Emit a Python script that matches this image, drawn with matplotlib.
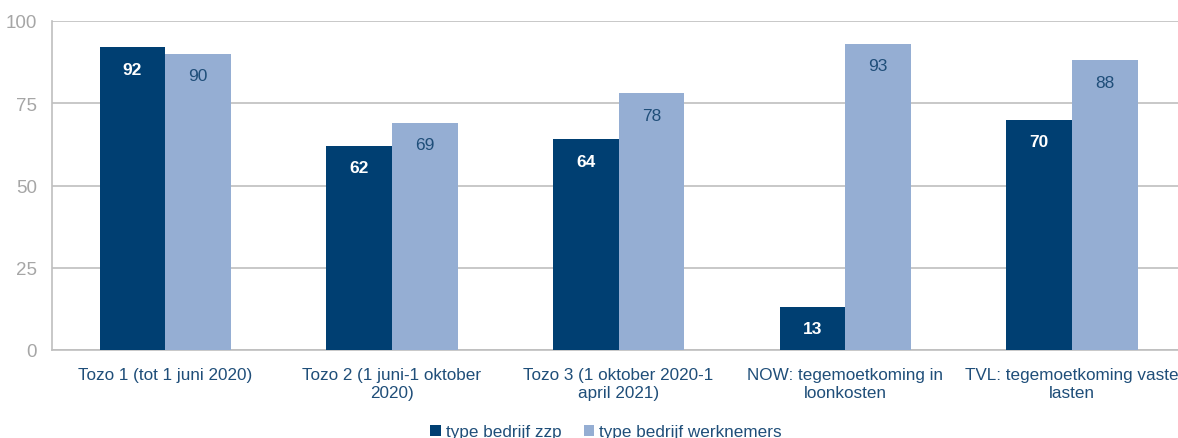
import numpy as np
import matplotlib.pyplot as plt

plt.rcParams['font.family'] = ['Liberation Sans', 'DejaVu Sans']

categories = ['Tozo 1 (tot 1 juni 2020)', 'Tozo 2 (1 juni-1 oktober\n2020)',
              'Tozo 3 (1 oktober 2020-1\napril 2021)', 'NOW: tegemoetkoming in\nloonkosten',
              'TVL: tegemoetkoming vaste\nlasten']
zzp = [92, 62, 64, 13, 70]
werknemers = [90, 69, 78, 93, 88]
series_names = ['type bedrijf zzp', 'type bedrijf werknemers']

dark = '#003F72'
light = '#95AED3'
textblue = '#1F4E79'
grey = '#BFBFBF'

fig = plt.figure(figsize=(11.78, 4.39), dpi=100)
ax = fig.add_axes([52 / 1178, 1 - 351 / 439, 1 - 52 / 1178 + 0.01, (351 - 22) / 439])

x = np.arange(len(categories))
w = 0.29
b1 = ax.bar(x - w / 2, zzp, w, color=dark, label=series_names[0], zorder=3)
b2 = ax.bar(x + w / 2, werknemers, w, color=light, label=series_names[1], zorder=3)

for rect, v in zip(b1, zzp):
    ax.text(rect.get_x() + rect.get_width() / 2, v - 6.6, str(v), ha='center', va='center',
            color='white', fontsize=12.5, fontweight='bold', zorder=4)
for rect, v in zip(b2, werknemers):
    ax.text(rect.get_x() + rect.get_width() / 2, v - 6.6, str(v), ha='center', va='center',
            color=textblue, fontsize=12.5, zorder=4)

ax.set_xlim(-0.5, len(categories) - 0.5 + 0.02)
ax.set_ylim(0, 100)
ax.set_yticks([0, 25, 50, 75, 100])
ax.yaxis.grid(True, color=grey, linewidth=1.2, zorder=0)
ax.set_xticks(x)
ax.set_xticklabels(categories, fontsize=12.3, color=textblue, linespacing=1.25)
ax.tick_params(axis='x', length=0, pad=12)
ax.tick_params(axis='y', length=0, labelsize=13.5, labelcolor='#A6A6A6', pad=11)
for s in ['top', 'right']:
    ax.spines[s].set_visible(False)
for s in ['left', 'bottom']:
    ax.spines[s].set_color(grey)
    ax.spines[s].set_linewidth(1.2)

fig.legend(loc='center', bbox_to_anchor=(606 / 1178, 1 - 433 / 439), ncol=2, frameon=False,
           fontsize=12.3, labelcolor=textblue, handlelength=0.6, handleheight=0.6,
           handletextpad=0.3, columnspacing=1.3)

fig.savefig('out.png', dpi=100)
